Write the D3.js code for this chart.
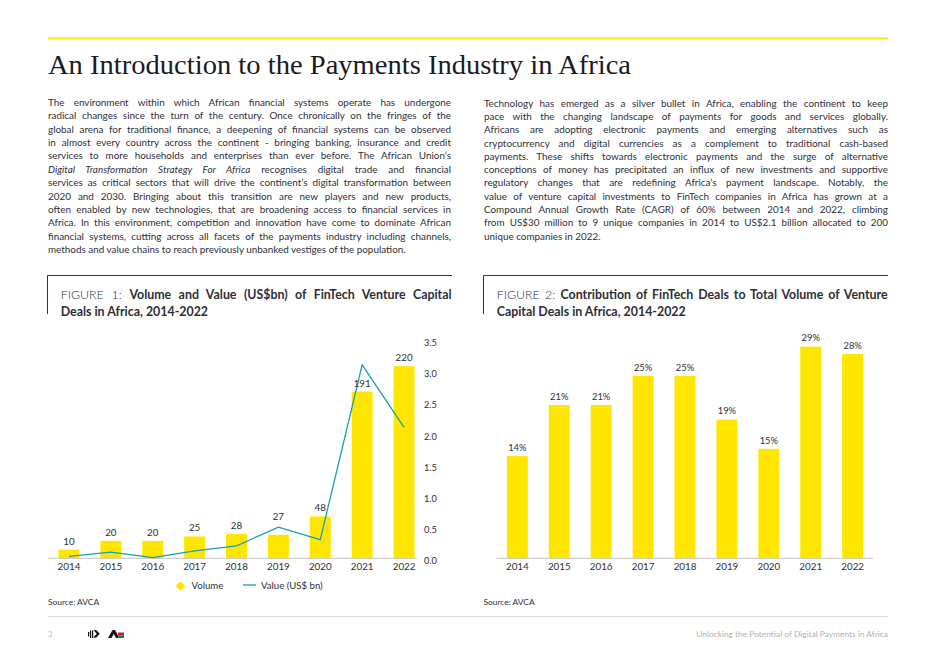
<!DOCTYPE html>
<html>
<head>
<meta charset="utf-8">
<script src="https://cdn.jsdelivr.net/npm/d3@7"></script>
<style>
  html, body { margin: 0; padding: 0; background: #fff; }
  svg { display: block; }
  text { font-family: Lato, "Open Sans", sans-serif; fill: #2e2e38; }
</style>
</head>
<body>
<svg id="page" width="936" height="662"></svg>
<script>
// ---------- DATA ----------
const years = ["2014", "2015", "2016", "2017", "2018", "2019", "2020", "2021", "2022"];
const dealVolume = [10, 20, 20, 25, 28, 27, 48, 191, 220];          // number of FinTech VC deals
const dealValue = [0.03, 0.1, 0.01, 0.12, 0.2, 0.5, 0.3, 3.1, 2.1];  // US$ bn
const fintechShare = [14, 21, 21, 25, 25, 19, 15, 29, 28];          // % of total VC deals
const valueTicks = [0, 0.5, 1.0, 1.5, 2.0, 2.5, 3.0, 3.5];

const pageTitle = "An Introduction to the Payments Industry in Africa";
const leftParagraph = [
  ["The environment within which African financial systems operate has undergone"],
  ["radical changes since the turn of the century. Once chronically on the fringes of the"],
  ["global arena for traditional finance, a deepening of financial systems can be observed"],
  ["in almost every country across the continent - bringing banking, insurance and credit"],
  ["services to more households and enterprises than ever before. The African Union’s"],
  [{i: "Digital Transformation Strategy For Africa"}, " recognises digital trade and financial"],
  ["services as critical sectors that will drive the continent’s digital transformation between"],
  ["2020 and 2030. Bringing about this transition are new players and new products,"],
  ["often enabled by new technologies, that are broadening access to financial services in"],
  ["Africa. In this environment, competition and innovation have come to dominate African"],
  ["financial systems, cutting across all facets of the payments industry including channels,"],
  ["methods and value chains to reach previously unbanked vestiges of the population."]
];
const rightParagraph = [
  ["Technology has emerged as a silver bullet in Africa, enabling the continent to keep"],
  ["pace with the changing landscape of payments for goods and services globally."],
  ["Africans are adopting electronic payments and emerging alternatives such as"],
  ["cryptocurrency and digital currencies as a complement to traditional cash-based"],
  ["payments. These shifts towards electronic payments and the surge of alternative"],
  ["conceptions of money has precipitated an influx of new investments and supportive"],
  ["regulatory changes that are redefining Africa’s payment landscape. Notably, the"],
  ["value of venture capital investments to FinTech companies in Africa has grown at a"],
  ["Compound Annual Growth Rate (CAGR) of 60% between 2014 and 2022, climbing"],
  ["from US$30 million to 9 unique companies in 2014 to US$2.1 billion allocated to 200"],
  ["unique companies in 2022."]
];
const fig1Title = [[{l: "FIGURE 1: "}, {b: "Volume and Value (US$bn) of FinTech Venture Capital"}], [{b: "Deals in Africa, 2014-2022"}]];
const fig2Title = [[{l: "FIGURE 2: "}, {b: "Contribution of FinTech Deals to Total Volume of Venture"}], [{b: "Capital Deals in Africa, 2014-2022"}]];
const legendLabels = ["Volume", "Value (US$ bn)"];
const sourceText = "Source: AVCA";
const footerText = "Unlocking the Potential of Digital Payments in Africa";
const pageNumber = "3";

// ---------- STYLE ----------
const YELLOW = "#FFE600";
const TEAL = "#1b9cb6";
const DARK = "#2e2e38";
const svg = d3.select("#page");

function justify(t, width) {
  const node = t.node();
  const w = node.getComputedTextLength();
  const n = (node.textContent.match(/ /g) || []).length;
  if (w > width) t.attr("textLength", width).attr("lengthAdjust", "spacingAndGlyphs");
  else if (n > 0) t.attr("word-spacing", (width - w) / n);
}

function writeLine(g, x, y, parts, size) {
  const t = g.append("text").attr("x", x).attr("y", y)
    .style("font-size", size + "px").style("white-space", "pre");
  parts.forEach(p => {
    if (typeof p === "string") t.append("tspan").text(p);
    else if (p.i) t.append("tspan").style("font-style", "italic").text(p.i);
    else if (p.b) t.append("tspan").style("font-weight", 700).text(p.b);
    else if (p.l) t.append("tspan").style("font-weight", 300).text(p.l);
  });
  return t;
}

// ---------- HEADER ----------
svg.append("line").attr("x1", 48).attr("x2", 888).attr("y1", 38.5).attr("y2", 38.5)
  .attr("stroke", YELLOW).attr("stroke-width", 2.2);
svg.append("text").attr("x", 48).attr("y", 73.5)
  .attr("textLength", 583).attr("lengthAdjust", "spacingAndGlyphs")
  .style("font-family", "'Liberation Serif', 'DejaVu Serif', serif")
  .style("font-size", "28px").style("fill", "#1a1a24")
  .text(pageTitle);

// ---------- PARAGRAPHS ----------
function paragraph(lines, x, y0, lh, width) {
  const g = svg.append("g");
  lines.forEach((parts, i) => {
    const t = writeLine(g, x, y0 + i * lh, parts, 9.9);
    if (i < lines.length - 1) justify(t, width);
  });
}
paragraph(leftParagraph, 48, 105.8, 13.4, 403);
paragraph(rightParagraph, 484, 106.6, 13.3, 404);

// ---------- FIGURE TITLE BOXES ----------
function figTitle(lines, x0, x1) {
  const g = svg.append("g");
  g.append("path").attr("d", `M${x0},314 V275.5 H${x1}`).attr("fill", "none")
    .attr("stroke", "#333").attr("stroke-width", 1);
  const t1 = writeLine(g, x0 + 13.2, 299.4, lines[0], 12.4);
  justify(t1, x1 - x0 - 13.6);
  writeLine(g, x0 + 13.2, 316, lines[1], 12.4);
}
figTitle(fig1Title, 47.5, 452);
figTitle(fig2Title, 483.5, 888);

// ---------- FIGURE 1 ----------
const base = 558.3;
const x1 = d3.scaleBand().domain(years).range([48, 425]).paddingInner(0.5).paddingOuter(0.25);
const yVol = d3.scaleLinear().domain([0, 250]).range([base, 340]);
const yVal = d3.scaleLinear().domain([0, 3.5]).range([base, 340]);

const f1 = svg.append("g");
f1.selectAll("rect.bar").data(years).join("rect").attr("class", "bar")
  .attr("x", d => x1(d)).attr("width", x1.bandwidth())
  .attr("y", (d, i) => yVol(dealVolume[i])).attr("height", (d, i) => base - yVol(dealVolume[i]))
  .attr("fill", YELLOW);

f1.append("line").attr("x1", 48).attr("x2", 417).attr("y1", base).attr("y2", base)
  .attr("stroke", "#c4c4c4").attr("stroke-width", 1);

const line = d3.line().x((d, i) => x1(years[i]) + x1.bandwidth() / 2).y(d => yVal(d));
f1.append("path").datum(dealValue).attr("d", line).attr("fill", "none")
  .attr("stroke", TEAL).attr("stroke-width", 1.3);

f1.selectAll("text.vlab").data(years).join("text").attr("class", "vlab")
  .attr("x", d => x1(d) + x1.bandwidth() / 2)
  .attr("y", (d, i) => {
    let top = yVol(dealVolume[i]);
    const ly = yVal(dealValue[i]);
    if (ly < top && top - ly < 15) top = ly - 2;
    return top - 5;
  })
  .attr("text-anchor", "middle").style("font-size", "9.8px")
  .text((d, i) => dealVolume[i]);

const ax1 = f1.append("g").attr("transform", `translate(0,${base})`)
  .call(d3.axisBottom(x1).tickSize(0).tickPadding(5));
ax1.select(".domain").remove();
ax1.selectAll("text").style("font-size", "9.8px").style("font-family", "Lato, sans-serif").attr("fill", DARK);

const ay1 = f1.append("g").attr("transform", "translate(424,0)")
  .call(d3.axisRight(yVal).tickValues(valueTicks).tickSize(0).tickPadding(0).tickFormat(d3.format(".1f")));
ay1.select(".domain").remove();
ay1.selectAll("text").style("font-size", "9.2px").style("font-family", "Lato, sans-serif")
  .attr("fill", DARK).attr("dy", "0.6em");

// legend
const lg = svg.append("g");
lg.append("path").attr("d", d3.symbol(d3.symbolDiamond2, 60)()).attr("transform", "translate(180.5,586)").attr("fill", YELLOW);
lg.append("text").attr("x", 191.5).attr("y", 588.6).style("font-size", "9.6px").text(legendLabels[0]);
lg.append("line").attr("x1", 243).attr("x2", 256).attr("y1", 585).attr("y2", 585).attr("stroke", TEAL).attr("stroke-width", 1.3);
lg.append("text").attr("x", 261).attr("y", 588.6).style("font-size", "9.6px").text(legendLabels[1]);

// ---------- FIGURE 2 ----------
const x2 = d3.scaleBand().domain(years).range([496.4, 873.6]).paddingInner(0.5).paddingOuter(0.25);
const y2 = d3.scaleLinear().domain([0, 30]).range([base, 339.3]);
const f2 = svg.append("g");
f2.selectAll("rect").data(years).join("rect")
  .attr("x", d => x2(d)).attr("width", x2.bandwidth())
  .attr("y", (d, i) => y2(fintechShare[i])).attr("height", (d, i) => base - y2(fintechShare[i]))
  .attr("fill", YELLOW);
f2.append("line").attr("x1", 496.7).attr("x2", 873.3).attr("y1", base).attr("y2", base)
  .attr("stroke", "#c4c4c4").attr("stroke-width", 1);
f2.selectAll("text.plab").data(years).join("text").attr("class", "plab")
  .attr("x", d => x2(d) + x2.bandwidth() / 2)
  .attr("y", (d, i) => y2(fintechShare[i]) - 5.2)
  .attr("text-anchor", "middle").style("font-size", "9.4px")
  .text((d, i) => fintechShare[i] + "%");
const ax2 = f2.append("g").attr("transform", `translate(0,${base})`)
  .call(d3.axisBottom(x2).tickSize(0).tickPadding(5));
ax2.select(".domain").remove();
ax2.selectAll("text").style("font-size", "9.8px").style("font-family", "Lato, sans-serif").attr("fill", DARK);

// ---------- SOURCES & FOOTER ----------
svg.append("text").attr("x", 48).attr("y", 605.2).style("font-size", "8.4px").text(sourceText);
svg.append("text").attr("x", 483.5).attr("y", 605.2).style("font-size", "8.4px").text(sourceText);

svg.append("line").attr("x1", 48).attr("x2", 888).attr("y1", 616.5).attr("y2", 616.5)
  .attr("stroke", "#dcdcdc").attr("stroke-width", 1);
svg.append("text").attr("x", 48).attr("y", 637).style("font-size", "7.5px").style("fill", "#b8b8b8").text(pageNumber);
svg.append("text").attr("x", 888).attr("y", 637).attr("text-anchor", "end")
  .style("font-size", "8.4px").style("fill", "#b0b0b0").text(footerText);

// logos (small marks)
const logo = svg.append("g").attr("transform", "translate(88,630)");
[0, 2, 4].forEach(dx => logo.append("rect").attr("x", dx).attr("y", 0.5 + (dx === 0 ? 1.5 : 0))
  .attr("width", 1.2).attr("height", dx === 0 ? 4.5 : 7.5).attr("fill", "#111"));
logo.append("path").attr("d", "M6,0 L9.5,3.8 L6,7.5 M7.5,0 L11,3.8 L7.5,7.5").attr("fill", "none").attr("stroke", "#111").attr("stroke-width", 1.1);
const logo2 = svg.append("g").attr("transform", "translate(108,630)");
logo2.append("path").attr("d", "M0,8 L4.5,0 L7,0 L11.5,8 L8,8 L5.8,4 L3.5,8 Z").attr("fill", "#111");
logo2.append("rect").attr("x", 10).attr("y", 2.5).attr("width", 6).attr("height", 2.8).attr("fill", "#c0272d");
logo2.append("rect").attr("x", 10).attr("y", 5.3).attr("width", 6).attr("height", 2.7).attr("fill", "#1f7a3a");
</script>
</body>
</html>
